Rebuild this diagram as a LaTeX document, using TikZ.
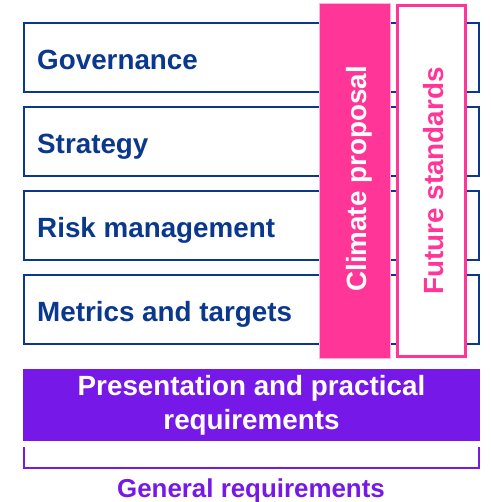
\documentclass[tikz,border=0pt]{standalone}
\usepackage{fontspec}
\setmainfont{Liberation Sans}
\definecolor{tcfdblue}{RGB}{10,56,140}
\definecolor{tcfdpink}{RGB}{255,54,152}
\definecolor{lightpink}{RGB}{255,180,215}
\definecolor{tcfdpurple}{RGB}{118,24,232}
\begin{document}
\begin{tikzpicture}[x=1pt,y=-1pt,
  pillar/.style={draw=tcfdblue,line width=2.5pt,fill=white},
  pillartext/.style={anchor=base west,inner sep=0pt,text=tcfdblue,font=\fontsize{27.8}{33}\selectfont\bfseries},
  vtext/.style={anchor=base,rotate=90,inner sep=0pt,font=\fontsize{27.8}{33}\selectfont\bfseries}]
\useasboundingbox (0,0) rectangle (490,502);
% four pillars
\draw[pillar] (24,23) rectangle (479,92);
\draw[pillar] (24,107) rectangle (479,176);
\draw[pillar] (24,191) rectangle (479,260);
\draw[pillar] (24,275) rectangle (479,344);
\node[pillartext] (gov) at (37,69.5) {Governance};
\node[pillartext] (str) at (37,153.5) {Strategy};
\node[pillartext] (risk) at (37,237.5) {Risk management};
\node[pillartext] (met) at (37,321) {Metrics and targets};
% climate proposal
\draw[fill=tcfdpink,draw=lightpink,line width=1pt] (319,4) rectangle (390,358);
\node[vtext,text=white] (clim) at (366,179) {Climate proposal};
% future standards
\draw[fill=white,draw=tcfdpink,line width=2.5pt] (397.5,5.5) rectangle (465.5,356.5);
\node[vtext,text=tcfdpink] (fut) at (443,181) {Future standards};
% presentation
\fill[tcfdpurple] (23,369) rectangle (480,441);
\node[align=center,inner sep=0pt,text=white,font=\fontsize{27.8}{34}\selectfont\bfseries] (pres) at (251.5,405.5) {Presentation and practical\\requirements};
% bracket
\draw[tcfdpurple,line width=2pt] (24,447) -- (24,468) -- (479,468) -- (479,447);
\node[anchor=base,inner sep=0pt,text=tcfdpurple,font=\fontsize{25.9}{30}\selectfont\bfseries] (gen) at (251,497) {General requirements};
\end{tikzpicture}
\end{document}
